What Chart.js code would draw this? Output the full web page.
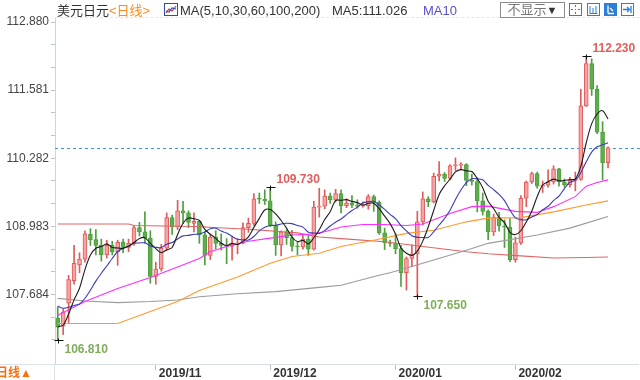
<!DOCTYPE html>
<html><head><meta charset="utf-8">
<script src="https://cdn.jsdelivr.net/npm/chart.js@4/dist/chart.umd.min.js"></script>
<style>
html,body{margin:0;padding:0;background:#fff;}
#wrap{position:relative;width:640px;height:380px;overflow:hidden;font-family:"Liberation Sans",Arial,"Noto Sans CJK SC",sans-serif;}
#c{position:absolute;left:0;top:0;}
.t{position:absolute;top:3px;font-size:13px;line-height:16px;white-space:nowrap;}
.sel{position:absolute;left:500px;top:2px;width:63px;height:14px;border:1px solid #8c8c8c;font-size:13px;line-height:14px;color:#777;text-align:center;white-space:nowrap;}
.sel b{color:#333;font-weight:normal;font-size:11px;}
.btn{position:absolute;top:3px;}
.hl{position:absolute;background:#dde3ea;}
.bl{position:absolute;left:-4px;top:366px;font-size:12px;line-height:14px;font-weight:bold;color:#ff6d0a;white-space:nowrap;}
.topdash{position:absolute;left:55px;top:17px;width:585px;height:0;border-top:1px dashed #e6e6e6;}
</style></head>
<body>
<div id="wrap">
  <canvas id="c" width="640" height="380"></canvas>
  <div class="topdash"></div>
  <div class="t" style="left:57px;color:#333">美元日元</div>
  <div class="t" style="left:109px;color:#ff8a1f">&lt;日线&gt;</div>
  <svg style="position:absolute;left:164px;top:3px" width="14" height="13" viewBox="0 0 14 13">
    <rect x="0.5" y="0.5" width="13" height="12" fill="#fff" stroke="#2f4f9f"/>
    <polyline points="2,10 5,6 8,8 12,3" fill="none" stroke="#e03030" stroke-width="1.2"/>
    <polyline points="2,8 5,9 8,5 12,6" fill="none" stroke="#3050d0" stroke-width="1.2"/>
  </svg>
  <div class="t" style="left:180px;color:#333">MA(5,10,30,60,100,200)</div>
  <div class="t" style="left:332px;color:#333">MA5:111.026</div>
  <div class="t" style="left:423px;color:#5a4fd0">MA10</div>
  <div class="sel">不显示<b>▼</b></div>
  <svg class="btn" style="left:569px" width="13" height="13" viewBox="0 0 13 13">
    <rect x="0.5" y="0.5" width="12" height="12" fill="#fff" stroke="#2b7fd6"/>
    <rect x="6" y="2" width="1" height="2" fill="#2b7fd6"/><rect x="6" y="9" width="1" height="2" fill="#2b7fd6"/>
    <rect x="2" y="6" width="2" height="1" fill="#2b7fd6"/><rect x="9" y="6" width="2" height="1" fill="#2b7fd6"/>
    <rect x="6" y="6" width="1" height="1" fill="#2b7fd6"/>
  </svg>
  <svg class="btn" style="left:587px" width="13" height="13" viewBox="0 0 13 13">
    <rect x="0.5" y="0.5" width="12" height="12" fill="#fff" stroke="#2b7fd6"/>
    <path d="M3 3v7M6 5v5M9 3v7M2.5 10.5h8" stroke="#2b7fd6" fill="none"/>
  </svg>
  <svg class="btn" style="left:604px" width="13" height="13" viewBox="0 0 13 13">
    <rect x="0.5" y="0.5" width="12" height="12" fill="#2b7fd6" stroke="#2b7fd6"/>
    <path d="M4 2.5v8M4 10.5h6M6 5l3 3" stroke="#fff" fill="none" stroke-width="1.3"/>
  </svg>
  <svg class="btn" style="left:621px" width="13" height="13" viewBox="0 0 13 13">
    <rect x="0.5" y="0.5" width="12" height="12" fill="#fff" stroke="#2b7fd6"/>
    <path d="M2 6.5h6M6 4l2.5 2.5L6 9M10 3v7" stroke="#2b7fd6" fill="none" stroke-width="1.3"/>
  </svg>
  <div class="hl" style="left:0;top:364px;width:55px;height:1px;"></div>
  <div class="hl" style="left:54px;top:364px;width:1px;height:16px;"></div>
  <div class="bl">日线▲</div>
</div>
<script>
// ---------- data ----------
const monthDays = [
  ['2019/10', [8,9,10,11,14,15,16,17,18,21,22,23,24,25,28,29,30,31]],
  ['2019/11', [1,4,5,6,7,8,11,12,13,14,15,18,19,20,21,22,25,26,27,28,29]],
  ['2019/12', [2,3,4,5,6,9,10,11,12,13,16,17,18,19,20,23,24,25,26,27,30,31]],
  ['2020/01', [1,2,3,6,7,8,9,10,13,14,15,16,17,20,21,22,23,24,27,28,29,30,31]],
  ['2020/02', [3,4,5,6,7,10,11,12,13,14,17,18,19,20,21,24,25,26]]
];
const dates = monthDays.flatMap(([m, ds]) => ds.map(d => m + '/' + String(d).padStart(2, '0')));
const emptySlots = 5;
const categories = dates.concat(Array(emptySlots).fill(''));

const opens = [
  107.23,107.08,107.52,107.95,108.25,108.36,108.83,108.73,108.62,108.44,
  108.62,108.50,108.68,108.58,108.66,108.96,108.88,108.76,108.03,108.17,
  108.57,109.15,108.98,109.28,109.24,109.04,109.08,108.82,108.43,108.78,
  108.66,108.62,108.60,108.64,108.67,108.96,109.04,109.51,109.50,109.47,
  109.00,108.63,108.88,108.77,108.60,108.59,108.74,108.55,109.35,109.37,
  109.56,109.49,109.61,109.38,109.43,109.39,109.37,109.38,109.55,109.44,
  108.86,108.67,108.66,108.56,108.10,108.37,108.46,109.07,109.51,109.45,
  109.94,109.98,109.90,110.14,110.15,110.16,109.86,109.84,109.47,109.27,
  108.88,109.16,108.99,108.97,108.35,108.67,109.52,109.83,109.99,109.75,
  109.77,109.83,110.08,109.83,109.78,109.86,109.88,111.28,112.09,111.60,
  110.78,110.20
];
const highs = [
  107.45,107.40,108.05,108.62,108.48,108.90,108.94,108.92,108.74,108.72,
  108.70,108.72,108.74,108.74,109.00,109.06,109.26,108.90,108.30,108.64,
  109.24,109.20,109.48,109.46,109.28,109.24,109.10,108.88,108.83,108.90,
  108.84,108.75,108.80,108.75,109.05,109.14,109.61,109.62,109.68,109.73,
  109.07,108.90,108.92,108.91,108.68,108.83,108.81,109.46,109.71,109.68,
  109.62,109.69,109.68,109.51,109.57,109.49,109.45,109.59,109.58,109.47,
  108.95,108.72,108.85,108.62,108.40,108.63,109.27,109.64,109.55,110.00,
  110.22,110.01,110.16,110.29,110.20,110.18,109.98,109.91,109.62,109.30,
  109.22,109.25,109.11,109.13,108.78,109.57,109.85,110.02,110.02,109.85,
  110.06,110.14,110.09,109.89,109.92,110.02,111.60,112.23,112.18,111.67,
  110.98,110.50
];
const lows = [
  106.81,106.92,107.15,107.88,108.10,108.30,108.62,108.44,108.32,108.38,
  108.44,108.24,108.48,108.50,108.62,108.80,108.66,107.90,107.88,108.13,
  108.52,108.83,108.92,109.04,108.96,108.88,108.66,108.25,108.35,108.55,
  108.53,108.27,108.34,108.46,108.65,108.87,109.00,109.42,109.40,108.98,
  108.43,108.42,108.64,108.51,108.44,108.55,108.43,108.53,109.16,109.32,
  109.42,109.45,109.24,109.34,109.34,109.33,109.35,109.31,109.27,108.83,
  108.54,108.60,108.46,107.84,107.77,108.21,107.65,109.01,109.36,109.43,
  109.85,109.84,109.87,110.05,110.07,109.76,109.77,109.26,109.20,108.73,
  108.81,108.89,108.58,108.31,108.30,108.64,109.36,109.80,109.71,109.63,
  109.73,109.79,109.75,109.73,109.73,109.66,109.86,111.27,111.48,110.75,
  109.87,110.10
];
const closes = [
  107.06,107.35,107.97,108.28,108.36,108.84,108.73,108.62,108.44,108.62,
  108.50,108.68,108.58,108.66,108.96,108.88,108.76,108.03,108.17,108.57,
  109.15,108.98,109.28,109.24,109.06,109.08,108.82,108.43,108.78,108.66,
  108.62,108.60,108.64,108.67,108.96,109.04,109.51,109.50,109.47,109.00,
  108.63,108.88,108.77,108.60,108.59,108.74,108.55,109.35,109.37,109.56,
  109.49,109.61,109.38,109.43,109.39,109.37,109.38,109.55,109.44,108.86,
  108.67,108.66,108.56,108.10,108.37,108.46,109.07,109.51,109.45,109.94,
  109.98,109.90,110.14,110.15,110.16,109.86,109.84,109.47,109.27,108.88,
  109.16,108.99,108.97,108.35,108.67,109.52,109.83,109.99,109.75,109.77,
  109.83,110.08,109.83,109.78,109.86,109.88,111.28,112.09,111.60,110.78,
  110.20,110.48
];
// closes just before the visible window (they set where MA5 / MA10 start)
const priorCloses = [107.77,107.78,107.92,108.08,107.75,107.19,106.90,106.93,107.25];

// long moving averages at sample candles
const ma30Idx = [0,5,11,17,22,26,28,31,35,39,43,46,49,52,56,60,64,67,72,76,79,84,88,91,95,97,99,101];
const ma30Val = [107.29,107.55,107.80,108.01,108.21,108.37,108.50,108.60,108.70,108.76,108.82,108.83,108.88,108.97,109.02,109.02,109.00,109.03,109.23,109.36,109.37,109.27,109.25,109.36,109.55,109.75,109.82,109.87];
const ma60Idx = [0,11,17,22,26,33,39,43,48,52,58,64,69,75,79,85,91,97,101];
const ma60Val = [107.13,107.13,107.36,107.55,107.76,108.02,108.28,108.41,108.47,108.60,108.72,108.85,108.91,109.07,109.14,109.15,109.26,109.39,109.47];
const ma100Idx = [0,5,11,17,22,26,33,40,49,52,59,61,67,75,79,88,94,101];
const ma100Val = [107.61,107.56,107.53,107.55,107.58,107.64,107.70,107.74,107.83,107.86,108.05,108.10,108.28,108.53,108.66,108.82,108.95,109.17];
const ma200Idx = [0,13,14,25,35,44,48,52,60,67,75,79,85,91,97,101];
const ma200Val = [109.03,109.03,109.00,108.98,108.93,108.86,108.78,108.75,108.69,108.60,108.50,108.46,108.42,108.38,108.39,108.40];

// price labels marked on the chart
const markIdx  = [0, 39, 66, 97];
const markKind = ['low', 'high', 'low', 'high'];

// axis ticks
const yTickLabels = [107.684, 108.983, 110.282, 111.581, 112.880];
const yMin = 106.359, yMax = 112.957;
const xTickLabels = ['2019/11', '2019/12', '2020/01', '2020/02'];
const xTickDates  = ['2019/11/01', '2019/12/02', '2020/01/02', '2020/02/03'];

// ---------- build ----------
const xTickIdx = xTickDates.map(d => dates.indexOf(d));
const yStep = (yTickLabels[1] - yTickLabels[0]) / 3;
const yTickValues = [];
yTickLabels.forEach(m => { yTickValues.push(m - 2 * yStep, m - yStep, m); });

function movingAvg(n) {
  const all = priorCloses.concat(closes), off = priorCloses.length;
  return closes.map((_, i) => {
    let s = 0;
    for (let j = 0; j < n; j++) s += all[off + i - j];
    return s / n;
  });
}
function sparse(idx, val) {
  const arr = categories.map(() => null);
  idx.forEach((k, j) => { arr[k] = val[j]; });
  return arr;
}
const isUp = i => closes[i] >= opens[i];
const UP_FILL = '#f4a4a4', UP_LINE = '#e05a5a', DN_FILL = '#5fae4c', DN_LINE = '#4f9e3e';
const FONT = '"Liberation Sans", Arial, sans-serif';

const lineDs = (label, data, color, extra) => Object.assign({
  type: 'line', label, data, borderColor: color, borderWidth: 1.1, pointRadius: 0,
  fill: false, spanGaps: true, tension: 0, order: 0
}, extra || {});

const overlay = {
  id: 'overlay',
  beforeDatasetsDraw(chart) {
    const { ctx, chartArea: a, scales: { y } } = chart;
    const py = Math.round(y.getPixelForValue(closes[closes.length - 1])) + 0.5;
    ctx.save();
    ctx.strokeStyle = '#3d92f2'; ctx.lineWidth = 1; ctx.setLineDash([3, 3]);
    ctx.beginPath(); ctx.moveTo(a.left, py); ctx.lineTo(chart.width, py); ctx.stroke();
    ctx.restore();
  },
  afterDatasetsDraw(chart) {
    const { ctx, scales: { x, y } } = chart;
    ctx.save();
    ctx.font = 'bold 12px ' + FONT;
    ctx.textBaseline = 'middle'; ctx.textAlign = 'left';
    markIdx.forEach((k, j) => {
      const high = markKind[j] === 'high';
      const v = high ? highs[k] : lows[k];
      const px = Math.round(x.getPixelForValue(k)) + 0.5;
      const py = Math.round(y.getPixelForValue(v)) + 0.5;
      ctx.strokeStyle = '#111'; ctx.lineWidth = 1;
      ctx.beginPath();
      ctx.moveTo(px - 4, py); ctx.lineTo(px + 5, py);
      ctx.moveTo(px, py - 2); ctx.lineTo(px, py + 3);
      ctx.stroke();
      ctx.fillStyle = high ? '#e25c5c' : '#7fae5a';
      ctx.fillText(v.toFixed(3), px + 6, high ? py - 8 : py + 9);
    });
    ctx.restore();
  }
};

new Chart(document.getElementById('c'), {
  type: 'bar',
  data: {
    labels: categories,
    datasets: [
      lineDs('MA5', movingAvg(5), '#1c1c1c', { tension: 0.3 }),
      lineDs('MA10', movingAvg(10), '#3b3bbb', { tension: 0.3 }),
      lineDs('MA30', sparse(ma30Idx, ma30Val), '#ff2cff'),
      lineDs('MA60', sparse(ma60Idx, ma60Val), '#ff9a2e'),
      lineDs('MA100', sparse(ma100Idx, ma100Val), '#9b9b9b'),
      lineDs('MA200', sparse(ma200Idx, ma200Val), '#e06666'),
      {
        type: 'bar', label: 'body', data: opens.map((o, i) => [o, closes[i]]),
        backgroundColor: c => isUp(c.dataIndex) ? UP_FILL : DN_FILL,
        borderColor: c => isUp(c.dataIndex) ? UP_LINE : DN_LINE,
        borderWidth: 1, borderSkipped: false, barThickness: 4, minBarLength: 1,
        grouped: false, order: 1
      },
      {
        type: 'bar', label: 'wick', data: lows.map((l, i) => [l, highs[i]]),
        backgroundColor: c => isUp(c.dataIndex) ? UP_LINE : DN_LINE,
        borderWidth: 0, barThickness: 1, grouped: false, order: 2
      }
    ]
  },
  options: {
    responsive: false,
    animation: false,
    devicePixelRatio: 1,
    layout: { autoPadding: false, padding: { top: 18, right: 2, left: 0, bottom: 0 } },
    plugins: { legend: { display: false }, tooltip: { enabled: false } },
    scales: {
      x: {
        type: 'category', offset: true,
        afterFit: s => { s.height = 16; },
        afterBuildTicks: a => { a.ticks = xTickIdx.map(v => ({ value: v })); },
        ticks: {
          autoSkip: false, maxRotation: 0, minRotation: 0, align: 'start', labelOffset: 3, padding: -4,
          font: { size: 12, weight: 'bold', family: FONT }, color: '#333',
          callback: (v, i) => xTickLabels[i]
        },
        grid: { drawOnChartArea: false, drawTicks: true, tickLength: 6, offset: false, color: '#b9c3cd' },
        border: { color: '#d6dde5' }
      },
      y: {
        type: 'linear', position: 'left', min: yMin, max: yMax, bounds: 'data',
        afterFit: s => { s.width = 55; },
        afterBuildTicks: a => { a.ticks = yTickValues.map(v => ({ value: v })); },
        ticks: {
          autoSkip: false, padding: 2, color: '#444',
          font: { size: 12, family: FONT },
          callback: v => yTickLabels.some(m => Math.abs(m - v) < 1e-6) ? v.toFixed(3) : ''
        },
        grid: { drawOnChartArea: false, drawTicks: true, tickLength: 4, color: '#b9c3cd' },
        border: { color: '#cdd6e0' }
      }
    }
  },
  plugins: [overlay]
});
</script>
</body></html>
